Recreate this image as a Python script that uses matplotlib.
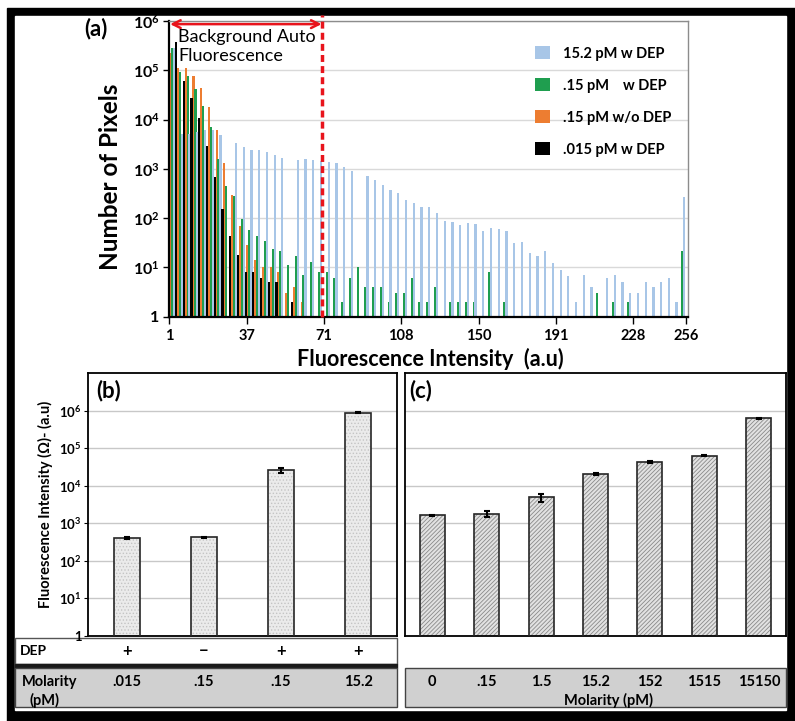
import numpy as np
import matplotlib
matplotlib.use('Agg')
import matplotlib.pyplot as plt
from matplotlib.patches import Rectangle, Patch
from matplotlib.ticker import NullLocator
from matplotlib import transforms

plt.rcParams['font.family'] = ['Lato', 'DejaVu Sans']
plt.rcParams['mathtext.fontset'] = 'custom'
plt.rcParams['mathtext.rm'] = 'Lato'
plt.rcParams['mathtext.bf'] = 'Lato:bold'
plt.rcParams['hatch.linewidth'] = 0.6

W, H = 795, 721

# (a) pixel counts per intensity bin (67 bins)
hist_labels = ['15.2 pM w DEP', '.15 pM    w DEP', '.15 pM w/o DEP', '.015 pM w DEP']
blue_152 = [2.8e5, 5000, 5000, 5500, 6200, 6200, 4900, 0, 3400, 2800,
            2400, 2400, 2150, 1950, 1620, 0, 1510, 1550, 1510, 1450,
            1380, 1320, 1100, 910, 0, 720, 590, 470, 380, 330,
            235, 205, 170, 170, 125, 89, 83, 72, 79, 76,
            56, 63, 60, 54, 31, 33, 19.5, 17.4, 22, 12.3,
            9, 6.8, 2, 7, 4, 0, 6, 7, 5, 3,
            3, 5, 4, 5, 6, 2, 270]
green_015 = [2.8e5, 9.3e4, 7.6e4, 4.2e4, 1.9e4, 7000, 1600, 450, 280, 95,
             58, 44, 35, 24, 22, 11, 17, 7, 13, 8,
             8, 6, 2, 6, 10, 4, 4, 4, 2, 3,
             3, 6, 2, 2, 4, 0, 2, 2, 2, 2,
             0, 8, 0, 2, 0, 0, 0, 0, 0, 0,
             0, 0, 0, 0, 0, 3, 0, 2, 0, 2,
             0, 0, 0, 0, 0, 0, 22]
orange_015 = [2.2e5, 1.1e5, 1.1e5, 7.6e4, 4.3e4, 1.8e4, 6200, 1300, 300, 68,
              28, 14, 10, 10, 8, 3, 4, 2] + [0] * 49
black_0015 = [3.8e5, 5.9e4, 2.75e4, 1.05e4, 2900, 680, 150, 44, 18, 8,
              8, 6, 5, 5, 0, 2] + [0] * 51
hist_ticklabels = ['1', '37', '71', '108', '150', '191', '228', '256']
hist_tickbins = [0, 10, 20, 30, 40, 50, 60, 66.9]

# (b) mean intensity with / without DEP
b_dep = ['+', '\u2212', '+', '+']
b_molarity = ['.015', '.15', '.15', '15.2']
b_vals = [400, 420, 26000, 890000]
b_err = [20, 20, 3500, 30000]

# (c) mean intensity vs molarity
c_molarity = ['0', '.15', '1.5', '15.2', '152', '1515', '15150']
c_vals = [1620, 1780, 4900, 20500, 43000, 63000, 630000]
c_err = [50, 330, 1300, 900, 1400, 1800, 9000]


def rect(x0, y0, x1, y1):
    return [x0 / W, 1 - y1 / H, (x1 - x0) / W, (y1 - y0) / H]


def sup_labels(n):
    return ['1'] + [r'$\mathbf{10^{%d}}$' % k for k in range(1, n + 1)]


fig = plt.figure(figsize=(W / 100, H / 100), dpi=100)

# page frame
bg = fig.add_axes([0, 0, 1, 1], zorder=0)
bg.set_xlim(0, W)
bg.set_ylim(H, 0)
bg.axis('off')
bg.add_patch(Rectangle((7, 8), W - 7, H - 8, color='black'))
bg.add_patch(Rectangle((15, 16), 771, 694, color='white'))

# ---------------- (a) histogram ----------------
ax = fig.add_axes(rect(169.3, 20.9, 688, 316.7), zorder=1)
cats = np.arange(len(blue_152))
series = [(orange_015, '#ed7d31', -0.375),
          (green_015, '#1f9e4f', -0.125),
          (blue_152, '#a8c6e7', 0.125),
          (black_0015, '#000000', 0.375)]
for vals, col, off in series:
    ax.bar(cats + off, vals, width=0.29, color=col, linewidth=0, zorder=2)

ax.set_yscale('log')
ax.set_ylim(1, 1e6)
ax.set_xlim(-0.5, 66.6)
ax.set_yticks([10.0 ** k for k in range(7)])
ax.set_yticklabels(sup_labels(6), fontsize=11.5, fontweight='bold')
ax.yaxis.set_minor_locator(NullLocator())
ax.set_xticks(np.array(hist_tickbins) - 0.5)
ax.set_xticklabels(hist_ticklabels, fontsize=10.5, fontweight='bold')
ax.tick_params(axis='x', length=5, width=1, pad=4)
ax.tick_params(axis='y', length=4, width=1, pad=3)
ax.yaxis.grid(True, color='#d9d9d9', lw=1)
ax.set_axisbelow(True)
for s in ['left', 'bottom']:
    ax.spines[s].set_linewidth(1.6)
for s in ['top', 'right']:
    ax.spines[s].set_color('#8c8c8c')
    ax.spines[s].set_linewidth(1)

# background auto-fluorescence window
ax.axvline(19.3, ymin=0, ymax=1.02, color='#e8141c', lw=2.5,
           linestyle=(0, (2, 1.2)), clip_on=False, zorder=5)
ax.annotate('', xy=(-0.4, 8.6e5), xytext=(19.2, 8.6e5),
            arrowprops=dict(arrowstyle='<->', color='#e8141c', lw=1.8,
                            shrinkA=0, shrinkB=0, mutation_scale=14),
            zorder=6)
ax.text(0.017, 0.972, 'Background Auto\nFluorescence', transform=ax.transAxes,
        ha='left', va='top', fontsize=13, linespacing=1.25, zorder=6)

handles = [Patch(facecolor=c, edgecolor='none')
           for c in ['#a8c6e7', '#1f9e4f', '#ed7d31', '#000000']]
ax.legend(handles, hist_labels, loc='upper left', bbox_to_anchor=(0.705, 0.915),
          frameon=False, handlelength=1.0, handleheight=1.0, handletextpad=0.9,
          labelspacing=1.2, borderpad=0, borderaxespad=0,
          prop={'weight': 'bold', 'size': 10.5})

bg.text(84, 29, '(a)', fontsize=16, fontweight='bold', ha='left', va='center')
bg.text(110, 177, 'Number of Pixels', fontsize=17.5, fontweight='bold',
        rotation=90, ha='center', va='center')
bg.text(430, 359, 'Fluorescence Intensity  (a.u)', fontsize=15.5,
        fontweight='bold', ha='center', va='center')

# ---------------- (b) DEP comparison ----------------
axb = fig.add_axes(rect(88.3, 373.3, 396.7, 635.7), zorder=1)
xb = np.arange(len(b_vals))
axb.bar(xb, b_vals, width=0.34, facecolor='#ebebeb', edgecolor='#c4c4c4',
        hatch='.....', linewidth=0, zorder=2)
axb.bar(xb, b_vals, width=0.34, fill=False, edgecolor='#262626', linewidth=1.2, zorder=3)
axb.errorbar(xb, b_vals, yerr=b_err, fmt='none', ecolor='black',
             elinewidth=1.5, capsize=2, capthick=1.5, zorder=4)
axb.set_yscale('log')
axb.set_ylim(1, 1e7)
axb.set_xlim(-0.5, len(b_vals) - 0.5)
axb.set_yticks([10.0 ** k for k in range(7)])
axb.set_yticklabels(sup_labels(6), fontsize=9.5, fontweight='bold')
axb.yaxis.set_minor_locator(NullLocator())
axb.set_xticks([])
axb.tick_params(axis='y', length=3, pad=2)
axb.yaxis.grid(True, color='#c8c8c8', lw=1)
axb.set_axisbelow(True)
axb.set_ylabel('Fluorescence Intensity (\u03a9)- (a.u)', fontsize=10.5,
               fontweight='bold', labelpad=4)
for s in axb.spines.values():
    s.set_linewidth(1.3)
axb.text(0.025, 0.975, '(b)', transform=axb.transAxes, ha='left', va='top',
         fontsize=16, fontweight='bold')

# ---------------- (c) molarity series ----------------
axc = fig.add_axes(rect(405, 373.3, 786, 635.7), zorder=1)
xc = np.arange(len(c_vals))
axc.bar(xc, c_vals, width=0.46, facecolor='#e2e2e2', edgecolor='#8a8a8a',
        hatch='////////', linewidth=0, zorder=2)
axc.bar(xc, c_vals, width=0.46, fill=False, edgecolor='#262626', linewidth=1.2, zorder=3)
axc.errorbar(xc, c_vals, yerr=c_err, fmt='none', ecolor='black',
             elinewidth=1.5, capsize=2, capthick=1.5, zorder=4)
axc.set_yscale('log')
axc.set_ylim(1, 1e7)
axc.set_xlim(-0.5, len(c_vals) - 0.5)
axc.set_yticks([10.0 ** k for k in range(7)])
axc.set_yticklabels([])
axc.yaxis.set_minor_locator(NullLocator())
axc.tick_params(axis='y', length=0)
axc.set_xticks([])
axc.yaxis.grid(True, color='#c8c8c8', lw=1)
axc.set_axisbelow(True)
for s in axc.spines.values():
    s.set_linewidth(1.3)
axc.text(0.012, 0.975, '(c)', transform=axc.transAxes, ha='left', va='top',
         fontsize=16, fontweight='bold')

# ---------------- condition rows ----------------
bg.add_patch(Rectangle((15, 638), 382, 26, facecolor='white', edgecolor='#555555', lw=1))
bg.add_patch(Rectangle((15, 664), 382, 4, color='#1a1a1a'))
bg.add_patch(Rectangle((15, 668), 382, 39, facecolor='#d0d0d0', edgecolor='#444444', lw=1))
bg.add_patch(Rectangle((405, 668), 381, 39, facecolor='#d0d0d0', edgecolor='#444444', lw=1))

tb = transforms.blended_transform_factory(axb.transData, bg.transData)
tc = transforms.blended_transform_factory(axc.transData, bg.transData)
bg.text(20, 651, 'DEP', fontsize=10, fontweight='bold', ha='left', va='center')
bg.text(22, 682, 'Molarity', fontsize=10.5, fontweight='bold', ha='left', va='center')
bg.text(29, 700, '(pM)', fontsize=10.5, fontweight='bold', ha='left', va='center')
for i, (d, m) in enumerate(zip(b_dep, b_molarity)):
    bg.text(i, 651, d, transform=tb, fontsize=12, fontweight='bold', ha='center', va='center')
    bg.text(i, 682, m, transform=tb, fontsize=10.5, fontweight='bold', ha='center', va='center')
for i, m in enumerate(c_molarity):
    bg.text(i, 682, m, transform=tc, fontsize=10.5, fontweight='bold', ha='center', va='center')
bg.text(609, 700, 'Molarity (pM)', fontsize=10.5, fontweight='bold', ha='center', va='center')

fig.savefig('out.png', dpi=100)
